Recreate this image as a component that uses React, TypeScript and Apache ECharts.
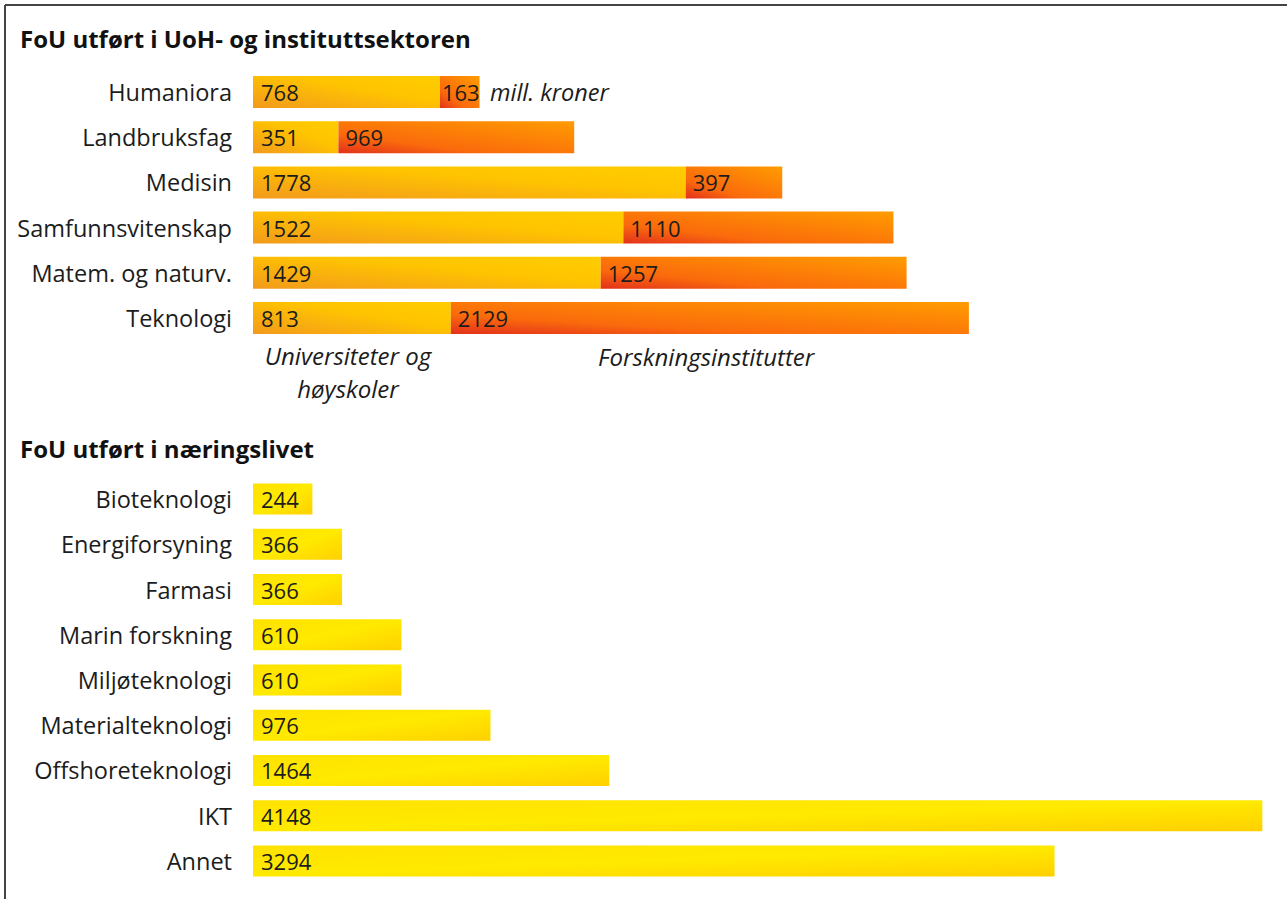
import React, { useEffect, useRef } from "react";
import * as echarts from "echarts";

const topCategories = ["Humaniora", "Landbruksfag", "Medisin", "Samfunnsvitenskap", "Matem. og naturv.", "Teknologi"];
const uohValues = [768, 351, 1778, 1522, 1429, 813];
const instituttValues = [163, 969, 397, 1110, 1257, 2129];

const bottomCategories = ["Bioteknologi", "Energiforsyning", "Farmasi", "Marin forskning", "Miljøteknologi", "Materialteknologi", "Offshoreteknologi", "IKT", "Annet"];
const naeringValues = [244, 366, 366, 610, 610, 976, 1464, 4148, 3294];

const FONT = "'Open Sans', 'Noto Sans', sans-serif";
const TEXT = "#1c1c1c";

export default function App() {
  const ref = useRef<HTMLDivElement>(null);
  useEffect(() => {
    if (!ref.current) return;
    const chart = echarts.init(ref.current, null, { renderer: "svg" });
    const uohColor = new echarts.graphic.LinearGradient(0, 1, 1, 0, [
      { offset: 0, color: "#F29A1C" },
      { offset: 0.6, color: "#FFC400" },
      { offset: 1, color: "#FFCD00" },
    ]);
    const instColor = new echarts.graphic.LinearGradient(0, 1, 1, 0, [
      { offset: 0, color: "#E2301C" },
      { offset: 0.3, color: "#FA6A0C" },
      { offset: 1, color: "#FF9C00" },
    ]);
    const yellowColor = new echarts.graphic.LinearGradient(0, 0, 1, 1, [
      { offset: 0, color: "#FFE200" },
      { offset: 0.5, color: "#FFEA00" },
      { offset: 1, color: "#FFD000" },
    ]);
    const label = {
      show: true,
      position: "insideLeft" as const,
      distance: 8,
      color: TEXT,
      fontSize: 22,
      fontFamily: FONT,
      formatter: "{c}",
    };
    const catAxis = (data: string[], gi: number) => ({
      type: "category" as const,
      gridIndex: gi,
      data,
      inverse: true,
      axisLine: { show: false },
      axisTick: { show: false },
      axisLabel: { color: TEXT, fontSize: 23.5, fontFamily: FONT, margin: 21 },
    });
    const valAxis = (gi: number) => ({
      type: "value" as const,
      gridIndex: gi,
      min: 0,
      max: 4200,
      show: false,
      splitLine: { show: false },
    });
    // the narrow first segment gets a tighter label offset so its number fits
    const instData = instituttValues.map((v, i) => (i === 0 ? { value: v, label: { distance: 2 } } : v));
    chart.setOption({
      animation: false,
      grid: [
        { left: 253, right: 12, top: 69.4, height: 271.2 },
        { left: 253, right: 12, top: 476.4, height: 407.2 },
      ],
      xAxis: [valAxis(0), valAxis(1)],
      yAxis: [catAxis(topCategories, 0), catAxis(bottomCategories, 1)],
      series: [
        {
          name: "Universiteter og høyskoler",
          type: "bar",
          stack: "top",
          xAxisIndex: 0,
          yAxisIndex: 0,
          barWidth: 32,
          data: uohValues,
          itemStyle: { color: uohColor },
          label,
        },
        {
          name: "Forskningsinstitutter",
          type: "bar",
          stack: "top",
          xAxisIndex: 0,
          yAxisIndex: 0,
          barWidth: 32,
          data: instData,
          itemStyle: { color: instColor },
          label: { ...label, distance: 7 },
        },
        {
          name: "Næringslivet",
          type: "bar",
          xAxisIndex: 1,
          yAxisIndex: 1,
          barWidth: 31,
          data: naeringValues,
          itemStyle: { color: yellowColor },
          label,
        },
      ],
      graphic: [
        { type: "line", shape: { x1: 5, y1: 5, x2: 1287, y2: 5 }, style: { stroke: "#444", lineWidth: 2 } },
        { type: "line", shape: { x1: 5, y1: 5, x2: 5, y2: 899 }, style: { stroke: "#444", lineWidth: 2 } },
        {
          type: "text", left: 20, top: 26,
          style: { text: "FoU utført i UoH- og instituttsektoren", fontSize: 24, fontWeight: "bold", fontFamily: FONT, fill: "#111" },
        },
        {
          type: "text", left: 20, top: 436,
          style: { text: "FoU utført i næringslivet", fontSize: 24, fontWeight: "bold", fontFamily: FONT, fill: "#111" },
        },
        {
          type: "text", x: 490, y: 92,
          style: { text: "mill. kroner", fontSize: 23.5, fontStyle: "italic", fontFamily: FONT, fill: TEXT, verticalAlign: "middle" },
        },
        {
          type: "text", x: 348, y: 372,
          style: { text: "Universiteter og\nhøyskoler", fontSize: 24, fontStyle: "italic", fontFamily: FONT, fill: TEXT, align: "center", verticalAlign: "middle", lineHeight: 33 },
        },
        {
          type: "text", x: 598, y: 356,
          style: { text: "Forskningsinstitutter", fontSize: 24, fontStyle: "italic", fontFamily: FONT, fill: TEXT, verticalAlign: "middle" },
        },
      ],
    });
    return () => chart.dispose();
  }, []);
  return <div ref={ref} style={{ position: "fixed", left: 0, top: 0, width: 1287, height: 899, background: "#fff" }} />;
}
